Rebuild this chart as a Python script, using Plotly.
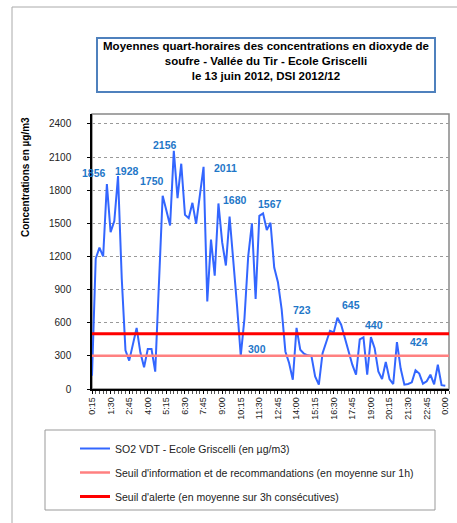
import plotly.graph_objects as go

# ---- data ----
so2_values = [120, 1180, 1280, 1200, 1856, 1420, 1520, 1928, 1000, 350,
              257, 393, 553, 332, 196, 362, 362, 157, 1000, 1750,
              1616, 1480, 2156, 1728, 2040, 1577, 1547, 1686, 1495, 1752,
              2011, 792, 1353, 1027, 1680, 1329, 1118, 1562, 1178, 755,
              300, 640, 1200, 1500, 816, 1568, 1590, 1440, 1505, 1100,
              967, 720, 340, 235, 84, 553, 355, 319, 305, 300,
              114, 39, 325, 430, 527, 512, 645, 582, 461, 355,
              220, 129, 450, 467, 129, 470, 370, 160, 90, 244,
              90, 45, 424, 185, 39, 45, 60, 170, 140, 48,
              70, 130, 42, 220, 35, 30]
tick_labels = ["0:15", "1:30", "2:45", "4:00", "5:15", "6:30", "7:45", "9:00",
               "10:15", "11:30", "12:45", "14:00", "15:15", "16:30", "17:45",
               "19:00", "20:15", "21:30", "22:45", "0:00"]
seuil_info = 300
seuil_alerte = 500
peak_labels = ["1856", "1928", "1750", "2156", "2011", "1680", "1567",
               "300", "723", "645", "440", "424"]

# label placement (layout only)
label_pos_x = [0.5, 9.3, 16.0, 19.6, 36.0, 38.4, 47.8, 44.5, 56.5, 69.6, 75.8, 87.9]
label_pos_y = [1960, 1973, 1879, 2208, 2005, 1707, 1674, 362, 718, 763, 576, 422]

n = len(so2_values)
xs = list(range(n))
tick_vals = list(range(0, n, 5))
x_max = n  # axis end

FONT = "Liberation Sans, Arial, sans-serif"

fig = go.Figure()
fig.add_trace(go.Scatter(x=xs, y=so2_values, mode="lines",
                         line=dict(color="#3366FF", width=2),
                         name="SO2 VDT - Ecole Griscelli (en µg/m3)",
                         legendgroup="a", legendrank=1))
fig.add_trace(go.Scatter(x=[0, x_max], y=[seuil_info, seuil_info], mode="lines",
                         line=dict(color="#FF8080", width=2.5),
                         name="Seuil d'information et de recommandations (en moyenne sur 1h)",
                         legendgroup="b", legendrank=2))
fig.add_trace(go.Scatter(x=[0, x_max], y=[seuil_alerte, seuil_alerte], mode="lines",
                         line=dict(color="#FF0000", width=3),
                         name="Seuil d'alerte (en moyenne sur 3h consécutives)",
                         legendgroup="c", legendrank=3))

L, R, T, B = 92, 8, 114, 134
W, H = 457, 523
pw, ph = W - L - R, H - T - B


def px(x):
    return (x - L) / pw


def py(y):
    return (H - B - y) / ph


annotations = []
for txt, lx, ly in zip(peak_labels, label_pos_x, label_pos_y):
    annotations.append(dict(x=lx, y=ly, xref="x", yref="y", text="<b>%s</b>" % txt,
                            showarrow=False, font=dict(family=FONT, size=10.5, color="#1F77C8")))

annotations.append(dict(
    x=px(265.5), y=py(37), xref="paper", yref="paper", xanchor="center", yanchor="top",
    text="<b>Moyennes quart-horaires des concentrations en dioxyde de<br>"
         "soufre - Vallée du Tir - Ecole Griscelli<br>le 13 juin 2012, DSI 2012/12</b>",
    showarrow=False, align="center", valign="top", width=334, height=50,
    bordercolor="#4F81BD", borderwidth=2, borderpad=1,
    font=dict(family=FONT, size=11.5, color="#000000")))

annotations.append(dict(
    x=px(25), y=py(177), xref="paper", yref="paper", xanchor="center", yanchor="middle",
    text="<b>Concentrations en µg/m3</b>", textangle=-90, showarrow=False,
    font=dict(family=FONT, size=10, color="#000000")))

shapes = [
    dict(type="rect", xref="paper", yref="paper", x0=px(12), x1=px(475), y0=py(540), y1=py(7),
         line=dict(color="#AAAAAA", width=1), layer="below"),
    dict(type="rect", xref="paper", yref="paper", x0=0, x1=1, y0=0, y1=1,
         line=dict(color="#888888", width=1.5), layer="below"),
    dict(type="rect", xref="paper", yref="paper", x0=px(45), x1=px(435), y0=py(510), y1=py(430),
         line=dict(color="#999999", width=1)),
]

fig.update_layout(
    width=W, height=H,
    margin=dict(l=L, r=R, t=T, b=B, autoexpand=False),
    paper_bgcolor="white", plot_bgcolor="white",
    font=dict(family=FONT, size=10, color="#222222"),
    showlegend=True,
    legend=dict(x=px(75), y=py(434), xanchor="left", yanchor="top",
                bgcolor="rgba(0,0,0,0)", borderwidth=0,
                font=dict(family=FONT, size=10.5, color="#222222"),
                traceorder="grouped", tracegroupgap=5),
    annotations=annotations,
    shapes=shapes,
    xaxis=dict(range=[0, x_max], tickmode="array", tickvals=tick_vals, ticktext=tick_labels,
               tickangle=-90, showgrid=False, zeroline=False,
               showline=True, linecolor="#000000", linewidth=1.5,
               ticks="outside", ticklen=3, tickcolor="#000000",
               tickfont=dict(family=FONT, size=9, color="#222222"),
               minor=dict(dtick=1, tick0=0, ticks="outside", ticklen=3, tickcolor="#555555")),
    yaxis=dict(range=[0, 2490], tickmode="linear", tick0=0, dtick=300,
               showgrid=True, gridcolor="#999999", griddash="dot", gridwidth=1,
               zeroline=False, showline=True, linecolor="#000000", linewidth=1.5,
               ticks="outside", ticklen=3, tickcolor="#000000", ticklabelstandoff=14,
               tickfont=dict(family=FONT, size=10, color="#222222")),
)

fig.write_html("out.html", config={"displayModeBar": False},
               post_script="document.body.style.margin='0px';document.body.style.overflow='hidden';")
